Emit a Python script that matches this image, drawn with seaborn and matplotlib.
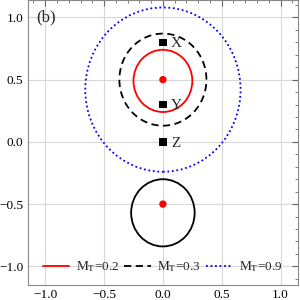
import matplotlib
matplotlib.use("Agg")
import matplotlib.pyplot as plt
from matplotlib.patches import Circle
from matplotlib.lines import Line2D
from matplotlib.ticker import MultipleLocator
import pandas as pd
import seaborn as sns

# Circles (contours) for each M_T
mt_labels = ["0.2", "0.3", "0.9"]
circle_x = [0.0, 0.0, 0.0]
circle_y = [0.49, 0.50, 0.42]
circle_r = [0.25, 0.37, 0.66]
circle_colors = ["red", "black", "blue"]
circle_styles = ["-", (0, (4, 2.5)), (0, (1, 1.5))]

# extra black circle near the lower dot
lower_x, lower_y, lower_r = 0.0, -0.57, 0.27

# red points
dots_x = [0.0, 0.0]
dots_y = [0.5, -0.5]

# labelled squares
sq_names = ["X", "Y", "Z"]
sq_x = [0.0, 0.0, 0.0]
sq_y = [0.80, 0.30, 0.0]

ticks = [-1.0, -0.5, 0.0, 0.5, 1.0]

sns.set_style("white")
plt.rcParams["font.family"] = ["Liberation Serif", "DejaVu Serif"]
plt.rcParams["mathtext.fontset"] = "stix"

fig = plt.figure(figsize=(3, 3), dpi=100)
ax = fig.add_axes([0.092, 0.05, 0.902, 0.95])

ax.set_xlim(-1.15, 1.15)
ax.set_ylim(-1.15, 1.14)
ax.set_xticks(ticks)
ax.set_yticks(ticks)
ax.xaxis.set_minor_locator(MultipleLocator(0.1))
ax.yaxis.set_minor_locator(MultipleLocator(0.1))
ax.set_xticklabels([f"{t:.1f}".replace("-", "\u2212") for t in ticks])
ax.set_yticklabels([f"{t:.1f}".replace("-", "\u2212") for t in ticks])
ax.grid(True, which="major", color="#d8d8d8", lw=0.8)
ax.set_axisbelow(True)
ax.tick_params(which="both", direction="in", top=True, right=True,
               colors="#666666", labelcolor="black", labelsize=9.5, pad=3)
ax.tick_params(which="major", length=4)
ax.tick_params(which="minor", length=2)
for s in ax.spines.values():
    s.set_color("#888888")
    s.set_linewidth(0.8)

for x, y, r, c, ls in zip(circle_x, circle_y, circle_r, circle_colors, circle_styles):
    ax.add_patch(Circle((x, y), r, fill=False, ec=c, ls=ls, lw=1.3))
ax.add_patch(Circle((lower_x, lower_y), lower_r, fill=False, ec="black", lw=1.3))

dots = pd.DataFrame({"x": dots_x, "y": dots_y})
sns.scatterplot(data=dots, x="x", y="y", ax=ax, color="red", s=28,
                edgecolor="none", legend=False)
squares = pd.DataFrame({"x": sq_x, "y": sq_y, "name": sq_names})
sns.scatterplot(data=squares, x="x", y="y", ax=ax, color="black", marker="s",
                s=30, edgecolor="none", legend=False)
for _, row in squares.iterrows():
    ax.text(row["x"] + 0.07, row["y"] - 0.01, row["name"], fontsize=11,
            va="center", ha="left")

ax.text(-1.08, 1.0, "(b)", fontsize=12, va="center", ha="left")
ax.set_xlabel("")
ax.set_ylabel("")

handles = [Line2D([], [], color=c, ls=ls, lw=1.3)
           for c, ls in zip(circle_colors, circle_styles)]
labels = [r"$\mathrm{M_T}$=" + m for m in mt_labels]
ax.legend(handles, labels, loc="center", bbox_to_anchor=(0.5, 0.064), ncol=3,
          frameon=False, fontsize=9.5, handlelength=2.0, handletextpad=0.5,
          columnspacing=0.4, borderaxespad=0)

fig.savefig("out.png", dpi=100)
